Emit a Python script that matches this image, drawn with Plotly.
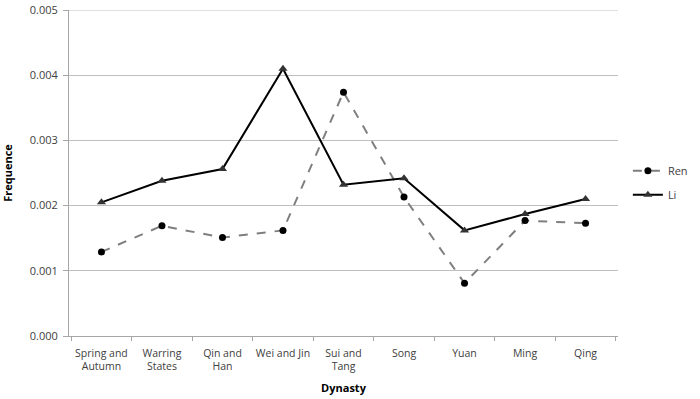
import plotly.graph_objects as go

dynasties = ["Spring and<br>Autumn", "Warring<br>States", "Qin and<br>Han", "Wei and Jin",
             "Sui and<br>Tang", "Song", "Yuan", "Ming", "Qing"]
ren = [0.00129, 0.00169, 0.00151, 0.00162, 0.00374, 0.00213, 0.00081, 0.00177, 0.00173]
li = [0.00205, 0.00238, 0.00256, 0.00410, 0.00232, 0.00242, 0.00162, 0.00187, 0.00210]
y_ticks = [0.000, 0.001, 0.002, 0.003, 0.004, 0.005]

font_family = "Open Sans, Liberation Sans, sans-serif"

fig = go.Figure()
fig.add_trace(go.Scatter(
    x=dynasties, y=ren, name="Ren", mode="lines+markers", legendgroup="ren",
    line=dict(color="#7f7f7f", width=2, dash="dash"),
    marker=dict(symbol="circle", size=7, color="#000000"),
))
fig.add_trace(go.Scatter(
    x=dynasties, y=li, name="Li", mode="lines+markers", legendgroup="li",
    line=dict(color="#000000", width=2),
    marker=dict(symbol="triangle-up", size=8, color="#333333"),
))

# top gridline (at the range edge)
fig.add_shape(type="line", xref="paper", x0=0, x1=1, yref="y", y0=y_ticks[-1], y1=y_ticks[-1],
              line=dict(color="#bfbfbf", width=1), layer="below")

fig.update_layout(
    width=700, height=399,
    margin=dict(l=69, r=82, t=10, b=63, autoexpand=False),
    paper_bgcolor="white", plot_bgcolor="white",
    font=dict(family=font_family, size=11, color="#404040"),
    showlegend=True,
    legend=dict(x=1.018, y=0.47, xanchor="left", yanchor="middle",
                font=dict(size=11, color="#404040"), bgcolor="rgba(0,0,0,0)",
                itemwidth=30, traceorder="grouped", tracegroupgap=5),
    xaxis=dict(
        type="category", tickson="boundaries", ticks="outside", ticklen=4,
        tickangle=0, automargin=False, ticklabelstandoff=7,
        tickcolor="#a6a6a6", showline=True, linecolor="#a6a6a6", linewidth=1,
        showgrid=False, tickfont=dict(size=10.5, color="#404040"),
        title=dict(text="<b>Dynasty</b>", font=dict(size=11, color="#000000"), standoff=12),
    ),
    yaxis=dict(
        range=[0, 0.005], tickvals=y_ticks, tickformat=".3f", automargin=False,
        showline=True, linecolor="#a6a6a6", linewidth=1, ticklabelstandoff=3,
        ticks="outside", ticklen=5, tickcolor="#a6a6a6", ticklabeloverflow="allow",
        showgrid=True, gridcolor="#bfbfbf", gridwidth=1, zeroline=False,
        tickfont=dict(size=11, color="#404040"),
        title=dict(text="<b>Frequence</b>", font=dict(size=11, color="#000000"), standoff=14),
    ),
)

fig.write_html("out.html", config={"displayModeBar": False},
               post_script="document.body.style.margin='0';")
